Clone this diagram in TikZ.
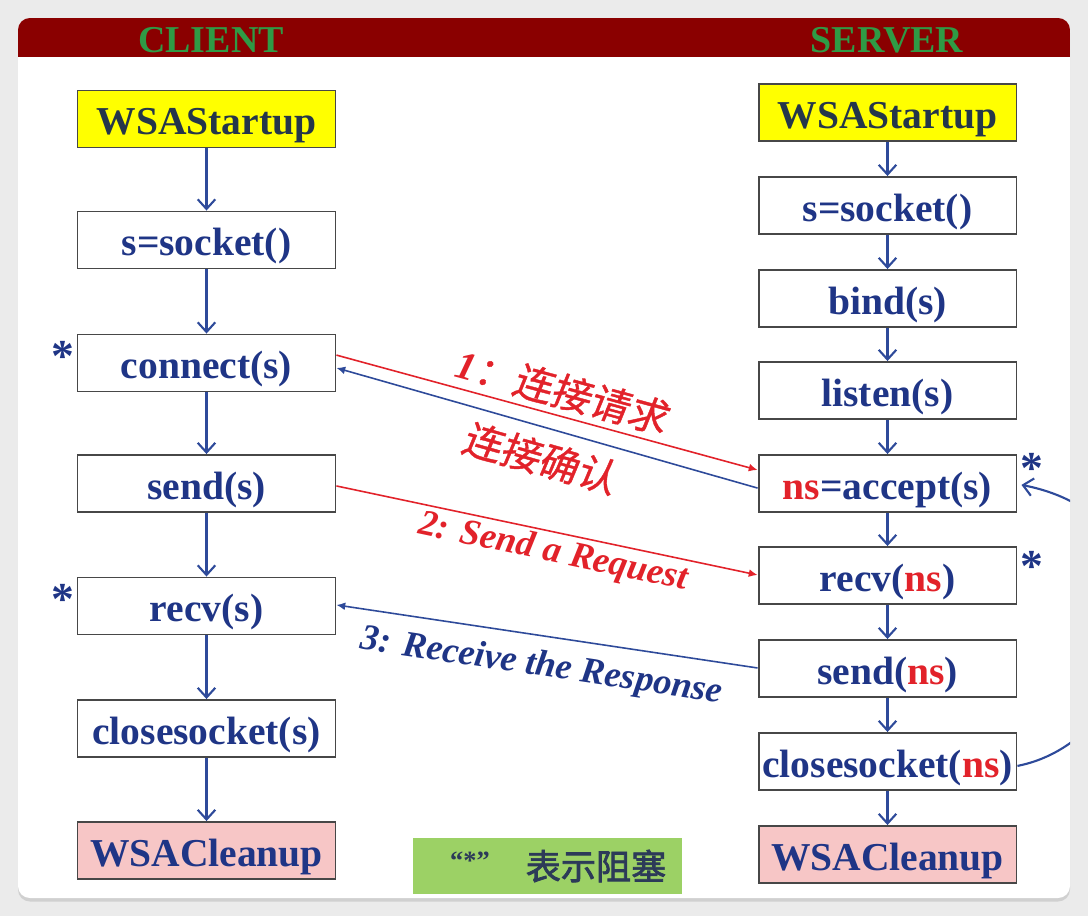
\documentclass[tikz,border=0pt]{standalone}
\usepackage{fontspec}
\setmainfont{Liberation Serif}
\newfontfamily\cjk{Noto Sans CJK SC}[FakeSlant=0.12,FakeBold=1]
\newfontfamily\cjkb{Noto Sans CJK SC}[FakeBold=2]
\usetikzlibrary{arrows.meta,shadows}
\definecolor{txtblue}{HTML}{1F3586}
\definecolor{lineblue}{HTML}{2E4A9A}
\definecolor{redc}{HTML}{E2222A}
\definecolor{hdrred}{HTML}{8A0000}
\definecolor{hdrgreen}{HTML}{2F9A45}
\definecolor{boxyellow}{HTML}{FFFF00}
\definecolor{boxpink}{HTML}{F7C6C6}
\definecolor{legendgreen}{HTML}{9CD165}
\definecolor{legendtxt}{HTML}{2C3A58}
\definecolor{startxt}{HTML}{24364A}
\definecolor{bggray}{HTML}{EBEBEB}
\definecolor{boxline}{HTML}{474747}
\tikzset{
  x=0.02cm, y=-0.02cm,
  fbox/.style={draw=boxline, line width=1.1pt, fill=white, minimum width=5.16cm, minimum height=1.14cm,
    inner sep=0pt, text height=18pt, text depth=0pt, text=txtblue, font=\fontsize{22.5pt}{24pt}\selectfont\bfseries},
  flow/.style={draw=lineblue, line width=1.2pt, -{Straight Barb[length=5.5pt,width=10pt,line width=1.2pt]}},
  msgred/.style={draw=redc, line width=0.9pt, -{Latex[length=5pt,width=4.5pt]}},
  msgblue/.style={draw=lineblue, line width=0.9pt, -{Latex[length=5pt,width=4.5pt]}},
  lbl/.style={font=\fontsize{20.8pt}{22pt}\selectfont\bfseries\itshape, inner sep=0pt},
  clbl/.style={font=\fontsize{22.5pt}{24pt}\selectfont\cjk, inner sep=0pt, text=redc},
  star/.style={text=txtblue, font=\fontsize{26pt}{28pt}\selectfont\bfseries, inner sep=0pt},
  hdr/.style={text=hdrgreen, font=\fontsize{21.6pt}{22pt}\selectfont\bfseries, inner sep=0pt}
}
\newcommand{\rns}{\textcolor{redc}{ns}}
\begin{document}
\begin{tikzpicture}
% background and frame
\fill[bggray] (0,0) rectangle (1088,916);
\fill[white, drop shadow={opacity=0.25, shadow xshift=0pt, shadow yshift=-2pt}, rounded corners=6.8pt] (18,18) rectangle (1070,898);
\begin{scope}
  \clip[rounded corners=6.8pt] (18,18) rectangle (1070,898);
  \fill[hdrred] (18,18) rectangle (1070,57);
\end{scope}
\node[hdr] (hc) at (211,40) {CLIENT};
\node[hdr] (hs) at (887,40) {SERVER};

% client column
\node[fbox, fill=boxyellow, text=startxt] (cw) at (206.5,119) {WSAStartup};
\node[fbox] (cs) at (206.5,240) {s=socket()};
\node[fbox] (cc) at (206.5,363) {connect(s)};
\node[fbox] (csd) at (206.5,483.5) {send(s)};
\node[fbox] (cr) at (206.5,606) {recv(s)};
\node[fbox] (ccl) at (206.5,728.5) {closesocket(s)};
\node[fbox, fill=boxpink] (cwc) at (206.5,850.5) {WSACleanup};

% server column
\node[fbox, fill=boxyellow, text=startxt] (sw) at (887.5,112.5) {WSAStartup};
\node[fbox] (ss) at (887.5,205.5) {s=socket()};
\node[fbox] (sb) at (887.5,298.5) {bind(s)};
\node[fbox] (sl) at (887.5,390.5) {listen(s)};
\node[fbox] (sa) at (887.5,483.5) {\rns=accept(s)};
\node[fbox] (sr) at (887.5,575.5) {recv(\rns)};
\node[fbox] (ssd) at (887.5,668.5) {send(\rns)};
\node[fbox] (scl) at (887.5,761.5) {closesocket(\rns)};
\node[fbox, fill=boxpink] (swc) at (887.5,854.5) {WSACleanup};

% vertical flows
\foreach \a/\b in {cw/cs, cs/cc, cc/csd, csd/cr, cr/ccl, ccl/cwc,
                   sw/ss, ss/sb, sb/sl, sl/sa, sa/sr, sr/ssd, ssd/scl, scl/swc}
  \draw[flow] (\a.south) -- (\b.north);

% messages
\draw[msgred] ([yshift=4.5pt]cc.east) -- ([yshift=7.7pt]sa.west);
\draw[msgblue] ([yshift=-2.6pt]sa.west) -- ([yshift=-2.8pt]cc.east);
\draw[msgred] ([yshift=-1.4pt]csd.east) -- ([yshift=0.3pt]sr.west);
\draw[msgblue] ([yshift=0.3pt]ssd.west) -- ([yshift=0.6pt]cr.east);

\node[clbl, rotate=-15.2] (l1) at (562,391) {{\fontspec{Liberation Serif}\bfseries\itshape 1}：连接请求};
\node[clbl, rotate=-15.8] (l1b) at (540,458) {连接确认};
\node[lbl, text=redc, rotate=-11.9] (l2) at (553,553) {2: Send a Request};
\node[lbl, text=txtblue, rotate=-8.5] (l3) at (541,667) {3: Receive the Response};

% blocking stars
\node[star] (st1) at (63,356) {*};
\node[star] (st2) at (63,599) {*};
\node[star] (st3) at (1032,468) {*};
\node[star] (st4) at (1032,566) {*};

% loop arrow, clipped at the frame edge
\begin{scope}
  \clip (18,18) rectangle (1070,898);
  \draw[flow]
    ([yshift=-2.5pt]scl.east) .. controls (1150,740) and (1200,520) .. ([xshift=2.3pt,yshift=-0.8pt]sa.east);
\end{scope}

% legend
\node[fill=legendgreen, minimum width=5.38cm, minimum height=1.12cm, inner sep=0pt] (leg) at (547.5,866) {};
\node[text=legendtxt, inner sep=0pt, font=\fontsize{15pt}{16pt}\selectfont\bfseries] (legq) at (470,861) {“*”};
\node[text=legendtxt, inner sep=0pt, font=\fontsize{20pt}{22pt}\selectfont\cjkb] (legt) at (596,866) {表示阻塞};
\end{tikzpicture}
\end{document}
